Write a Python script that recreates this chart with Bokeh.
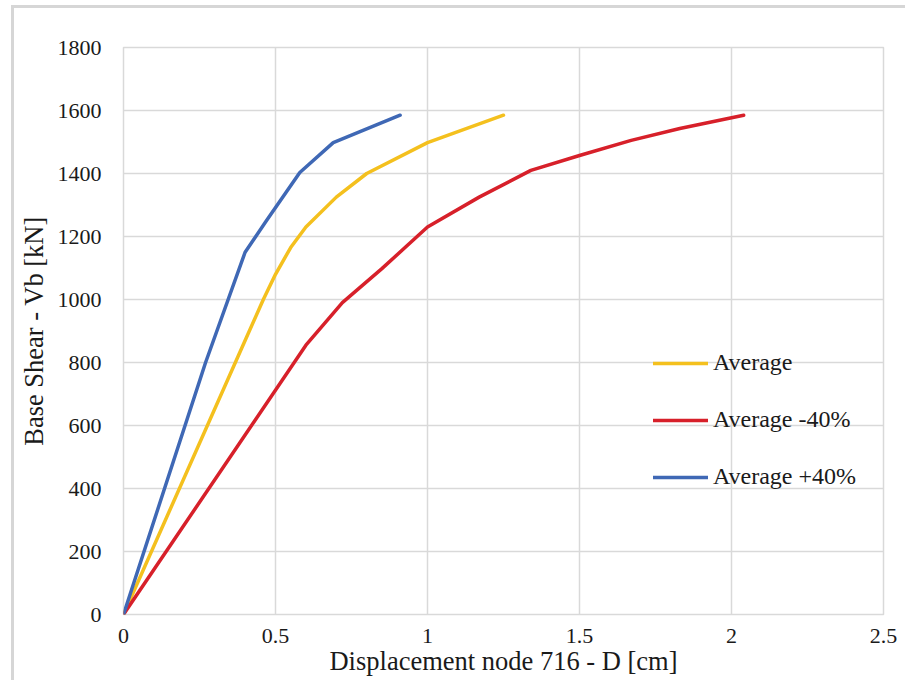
from bokeh.plotting import figure
from bokeh.models import Legend, LegendItem, FixedTicker, Range1d
from bokeh.embed import file_html
from bokeh.resources import INLINE

# Pushover curves: displacement of node 716 [cm] vs base shear [kN]
disp_avg = [0, 0.40, 0.46, 0.50, 0.55, 0.60, 0.70, 0.80, 1.00, 1.25]
vb_avg = [0, 870, 1000, 1080, 1165, 1230, 1325, 1400, 1498, 1585]

disp_minus40 = [0, 0.60, 0.72, 0.85, 1.00, 1.17, 1.34, 1.50, 1.67, 1.83, 2.04]
vb_minus40 = [0, 855, 990, 1098, 1230, 1325, 1410, 1457, 1505, 1543, 1585]

disp_plus40 = [0, 0.27, 0.40, 0.47, 0.58, 0.69, 0.91]
vb_plus40 = [0, 800, 1150, 1250, 1403, 1498, 1585]

series_names = ["Average", "Average -40%", "Average +40%"]
series_colors = ["#F4C01E", "#D7202A", "#3F68B5"]

x_ticks = [0, 0.5, 1, 1.5, 2, 2.5]
x_tick_labels = ["0", "0.5", "1", "1.5", "2", "2.5"]
y_ticks = [0, 200, 400, 600, 800, 1000, 1200, 1400, 1600, 1800]

FONT = "Liberation Serif"
TEXT = "#1a1a1a"
GRID = "#d9d9d9"

# the chart sits inside a light frame (top and left edges visible)
p = figure(width=894, height=675, output_backend="svg", toolbar_location=None,
           x_range=Range1d(0, 2.5), y_range=Range1d(0, 1800),
           min_border_left=109, min_border_right=25,
           min_border_top=39, min_border_bottom=69,
           margin=(5, 0, 0, 11),
           styles={"border-top": "3px solid #d6d6d6",
                   "border-left": "3px solid #d6d6d6"})

p.outline_line_color = GRID
p.outline_line_width = 1.5
p.background_fill_color = "white"
p.border_fill_color = "white"

for g in (p.xgrid, p.ygrid):
    g.grid_line_color = GRID
    g.grid_line_width = 1.5
p.xgrid.ticker = FixedTicker(ticks=x_ticks)
p.ygrid.ticker = FixedTicker(ticks=y_ticks)

p.xaxis.ticker = FixedTicker(ticks=x_ticks)
p.xaxis.major_label_overrides = {t: s for t, s in zip(x_ticks, x_tick_labels)}
p.yaxis.ticker = FixedTicker(ticks=y_ticks)

for ax in (p.xaxis, p.yaxis):
    ax.axis_line_color = None
    ax.major_tick_line_color = None
    ax.minor_tick_line_color = None
    ax.major_tick_out = 0
    ax.major_tick_in = 0
    ax.major_label_text_font = FONT
    ax.major_label_text_font_size = "22px"
    ax.major_label_text_color = TEXT
    ax.axis_label_text_font = FONT
    ax.axis_label_text_font_size = "26.5px"
    ax.axis_label_text_font_style = "normal"
    ax.axis_label_text_color = TEXT

p.xaxis.axis_label = "Displacement node 716 - D [cm]"
p.yaxis.axis_label = "Base Shear - Vb [kN]"
p.xaxis.major_label_standoff = 14
p.xaxis.axis_label_standoff = 0
p.yaxis.major_label_standoff = 22
p.yaxis.axis_label_standoff = 6

renderers = []
for xs, ys, color in ((disp_avg, vb_avg, series_colors[0]),
                      (disp_minus40, vb_minus40, series_colors[1]),
                      (disp_plus40, vb_plus40, series_colors[2])):
    r = p.line(xs, ys, line_color=color, line_width=3.5, line_join="round", line_cap="round")
    renderers.append(r)

legend = Legend(items=[LegendItem(label=n, renderers=[r]) for n, r in zip(series_names, renderers)],
                location=(530, 124))
legend.border_line_color = None
legend.background_fill_alpha = 0
legend.glyph_width = 55
legend.glyph_height = 20
legend.label_height = 20
legend.spacing = 30
legend.padding = 0
legend.margin = 0
legend.label_standoff = 5
legend.label_text_font = FONT
legend.label_text_font_size = "24px"
legend.label_text_color = TEXT
p.add_layout(legend)

open("out.html", "w").write(file_html(p, INLINE))
